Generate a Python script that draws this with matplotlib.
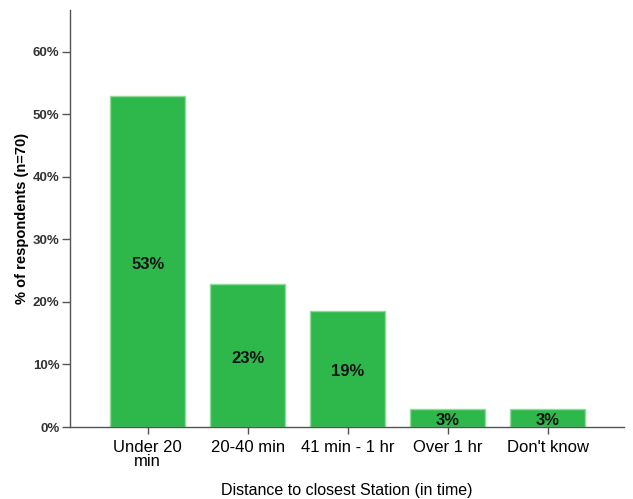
import numpy as np
import matplotlib.pyplot as plt
from matplotlib.ticker import PercentFormatter

plt.rcParams['font.family'] = ['Liberation Sans', 'DejaVu Sans']

categories = ["Under 20\nmin", "20-40 min", "41 min - 1 hr", "Over 1 hr", "Don't know"]
counts = [37, 16, 13, 2, 2]
n_total = 70
shares = [c / n_total for c in counts]
value_labels = ["53%", "23%", "19%", "3%", "3%"]

fig = plt.figure(figsize=(6.33, 4.99), dpi=100)
ax = fig.add_axes([70/633, 1 - 427/499, (624 - 70)/633, (427 - 10)/499])

x = np.arange(len(categories))
ax.bar(x, shares, width=0.75, color="#2eb84b", edgecolor="#8fdc98", linewidth=1.0)

# percentage labels in the middle of each bar
for xi, s, lab in zip(x, shares, value_labels):
    ax.text(xi, s / 2 - 0.004, lab, ha="center", va="center", fontsize=12, fontweight="bold", color="#111111")

ax.set_xlim(-0.777, 4.763)
ax.set_ylim(0, 2/3)
ax.set_yticks(np.arange(0, 0.61, 0.1))
ax.yaxis.set_major_formatter(PercentFormatter(1.0, decimals=0))
ax.set_xticks(x)
ax.set_xticklabels(categories, fontsize=12, linespacing=0.95)

for lab in ax.get_yticklabels():
    lab.set_fontweight("bold")
    lab.set_fontsize(9.5)
    lab.set_color("#333333")

ax.tick_params(axis="y", length=6, width=1, color="#555555", pad=1.5)
ax.tick_params(axis="x", length=5, width=1, color="#555555", pad=4)

for side in ["top", "right"]:
    ax.spines[side].set_visible(False)
for side in ["left", "bottom"]:
    ax.spines[side].set_color("#555555")
    ax.spines[side].set_linewidth(1)

ax.set_ylabel("% of respondents (n=70)", fontsize=10.5, fontweight="bold", labelpad=3)
ax.set_xlabel("Distance to closest Station (in time)", fontsize=11.5, labelpad=10)

fig.savefig("out.png", dpi=100)
